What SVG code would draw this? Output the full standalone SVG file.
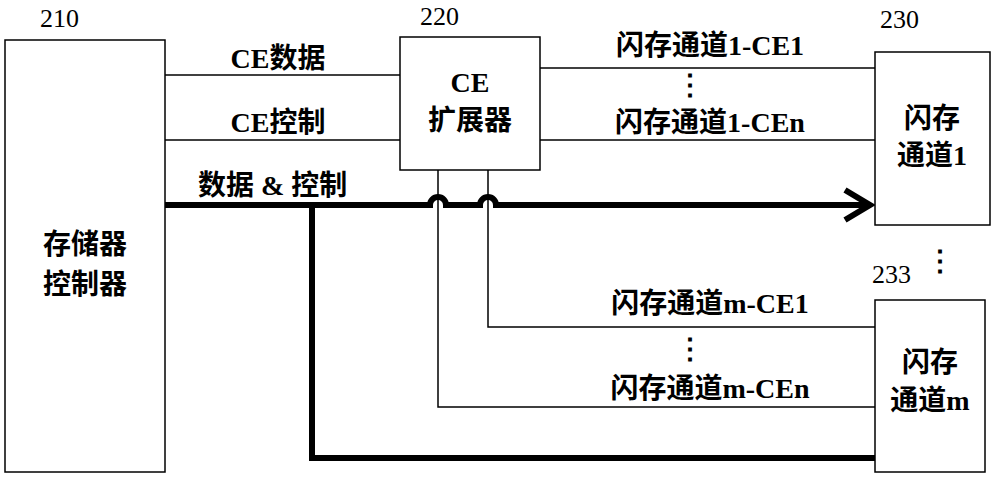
<svg xmlns="http://www.w3.org/2000/svg" width="1000" height="493" viewBox="0 0 1000 493">
<style>
text{font-family:"Liberation Serif","Noto Sans CJK SC",serif;font-size:26px;fill:#000}
.b{font-weight:bold;font-size:28px}
.box{fill:#fff;stroke:#000;stroke-width:1.5}
.thin{fill:none;stroke:#000;stroke-width:1.5}
.thick{fill:none;stroke:#000;stroke-width:6}
</style>
<rect width="1000" height="493" fill="#fff"/>
<g id="connectors">
<line class="thin" x1="165" y1="75" x2="400" y2="75"/>
<line class="thin" x1="165" y1="140" x2="400" y2="140"/>
<line class="thin" x1="540" y1="68" x2="875" y2="68"/>
<line class="thin" x1="540" y1="140" x2="875" y2="140"/>
<path class="thin" d="M438 170V407H875"/>
<path class="thin" d="M488 170V327H875"/>
<path class="thick" d="M165 205H430a8 8 0 0 1 16 0H480a8 8 0 0 1 16 0H870"/>
<path class="thick" d="M845 190L870 205L845 220"/>
<path class="thick" d="M312 205V458H875"/>
</g>
<g id="n210"><rect class="box" x="5" y="40" width="160" height="432"/><text x="40" y="27">210</text><text class="b" x="85" y="254" text-anchor="middle">存储器</text><text class="b" x="85" y="294" text-anchor="middle">控制器</text></g>
<g id="n220"><rect class="box" x="400" y="37" width="140" height="133"/><text x="420" y="25">220</text><text class="b" x="470" y="92" text-anchor="middle">CE</text><text class="b" x="470" y="130" text-anchor="middle">扩展器</text></g>
<g id="n230"><rect class="box" x="875" y="52" width="115" height="173"/><text x="880" y="28">230</text><text class="b" x="932" y="128" text-anchor="middle">闪存</text><text class="b" x="932" y="165" text-anchor="middle">通道1</text></g>
<g id="n233"><rect class="box" x="875" y="300" width="110" height="172"/><text x="872" y="283">233</text><text class="b" x="930" y="372" text-anchor="middle">闪存</text><text class="b" x="930" y="410" text-anchor="middle">通道m</text></g>
<g id="labels">
<text class="b" x="278" y="68" text-anchor="middle">CE数据</text>
<text class="b" x="278" y="132" text-anchor="middle">CE控制</text>
<text class="b" x="198" y="195" xml:space="preserve">数据 &amp; 控制</text>
<text class="b" x="710" y="55" text-anchor="middle">闪存通道1-CE1</text>
<text class="b" x="710" y="132" text-anchor="middle">闪存通道1-CEn</text>
<text class="b" x="710" y="313" text-anchor="middle">闪存通道m-CE1</text>
<text class="b" x="710" y="398" text-anchor="middle">闪存通道m-CEn</text>
<text class="b" x="690" y="94" text-anchor="middle">⋮</text>
<text class="b" x="690" y="358" text-anchor="middle">⋮</text>
<text class="b" x="940" y="270" text-anchor="middle">⋮</text>
</g>
</svg>
